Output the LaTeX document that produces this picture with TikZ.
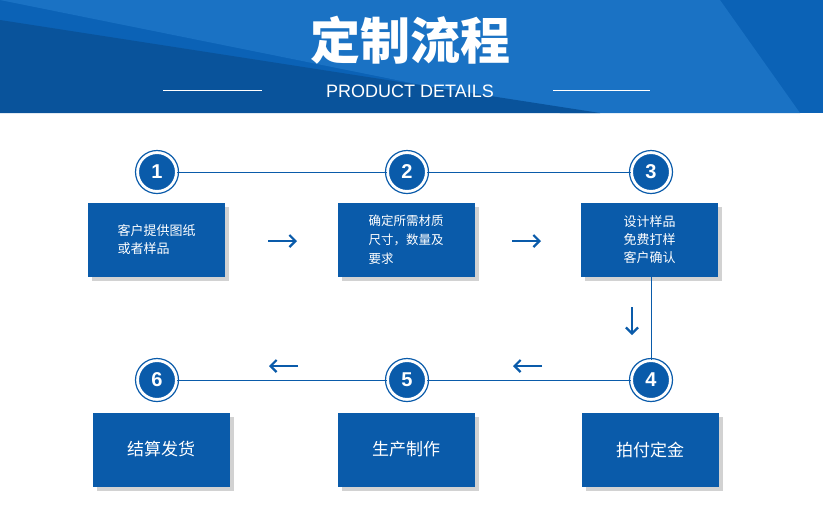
\documentclass[tikz,border=0pt]{standalone}
\usepackage{fontspec}
\setmainfont{Liberation Sans}
\newfontfamily\cjk{Noto Sans CJK SC}
\usetikzlibrary{arrows.meta}
\definecolor{mblue}{HTML}{0A5BAA}
\definecolor{hblue}{HTML}{0B62B6}
\definecolor{lblue}{HTML}{1A72C4}
\begin{document}
\begin{tikzpicture}[x=1pt,y=-1pt,
 numc/.style={circle,fill=mblue,draw=white,line width=2pt,minimum size=38pt,inner sep=0pt,text=white,font=\bfseries\fontsize{20}{20}\selectfont},
 ring/.style={circle,draw=mblue,line width=1.2pt,minimum size=43pt},
 stepbox/.style={fill=mblue,text=white,minimum width=137pt,minimum height=74pt,inner sep=0pt,font=\cjk\fontsize{13}{18}\selectfont},
 conn/.style={mblue,line width=0.9pt},
 arr/.style={mblue,line width=2.2pt,-{Straight Barb[length=6pt,width=12pt]}}]
\useasboundingbox (0,0) rectangle (823,531);
\fill[white] (0,0) rectangle (823,531);
\fill[hblue] (0,0) rectangle (823,113);
\fill[lblue] (0,0) -- (720,0) -- (800,113) -- (560,113) -- cycle;
\fill[hblue!85!black] (0,20) -- (600,113) -- (0,113) -- cycle;
\node[text=white,font=\cjk\bfseries\fontsize{50}{50}\selectfont] (title) at (410,40) {定制流程};
\node[text=white,font=\fontsize{18}{18}\selectfont] (sub) at (410,91) {PRODUCT DETAILS};
\draw[white,line width=1pt] (163,90) -- (262,90) (553,90) -- (650,90);
% connectors
\coordinate (c1) at (157,172); \coordinate (c2) at (407,172); \coordinate (c3) at (651,172);
\coordinate (c6) at (157,380); \coordinate (c5) at (407,380); \coordinate (c4) at (651,380);
\draw[conn] (c1) -- (c3);
\draw[conn] (c6) -- (c4);
% boxes with shadows
\foreach \x/\y in {156.5/239.5,406/239.5,649.5/239.5,161/449.5,406/449.5,650/449.5}
  \fill[gray!35] (\x-68.5+4,\y-37+4) rectangle (\x+68.5+4,\y+37+4);
\node[stepbox,align=left] (b1) at (156.5,239.5) {客户提供图纸\\或者样品};
\node[stepbox,align=left,font=\cjk\fontsize{12.5}{19}\selectfont] (b2) at (406,239.5) {确定所需材质\\尺寸，数量及\\要求};
\node[stepbox,align=center] (b3) at (649.5,239.5) {设计样品\\免费打样\\客户确认};
\node[stepbox,font=\cjk\fontsize{17}{20}\selectfont] (b6) at (161,449.5) {结算发货};
\node[stepbox,font=\cjk\fontsize{17}{20}\selectfont] (b5) at (406,449.5) {生产制作};
\node[stepbox,font=\cjk\fontsize{17}{20}\selectfont] (b4) at (650,449.5) {拍付定金};
\draw[conn] (b3.south -| c3) -- (c4);
\foreach \n/\c in {1/c1,2/c2,3/c3,4/c4,5/c5,6/c6}{
  \node[ring] (r\n) at (\c) {};
  \node[numc] (n\n) at (\c) {\n};}
% arrows
\coordinate (a1s) at (268,241); \coordinate (a1e) at (297,241);
\coordinate (a2s) at (512,241); \coordinate (a2e) at (541,241);
\coordinate (a3s) at (632,307); \coordinate (a3e) at (632,335);
\coordinate (a4s) at (298,366); \coordinate (a4e) at (269,366);
\coordinate (a5s) at (542,366); \coordinate (a5e) at (513,366);
\draw[arr] (a1s) -- (a1e);
\draw[arr] (a2s) -- (a2e);
\draw[arr] (a3s) -- (a3e);
\draw[arr] (a4s) -- (a4e);
\draw[arr] (a5s) -- (a5e);
\end{tikzpicture}
\end{document}
